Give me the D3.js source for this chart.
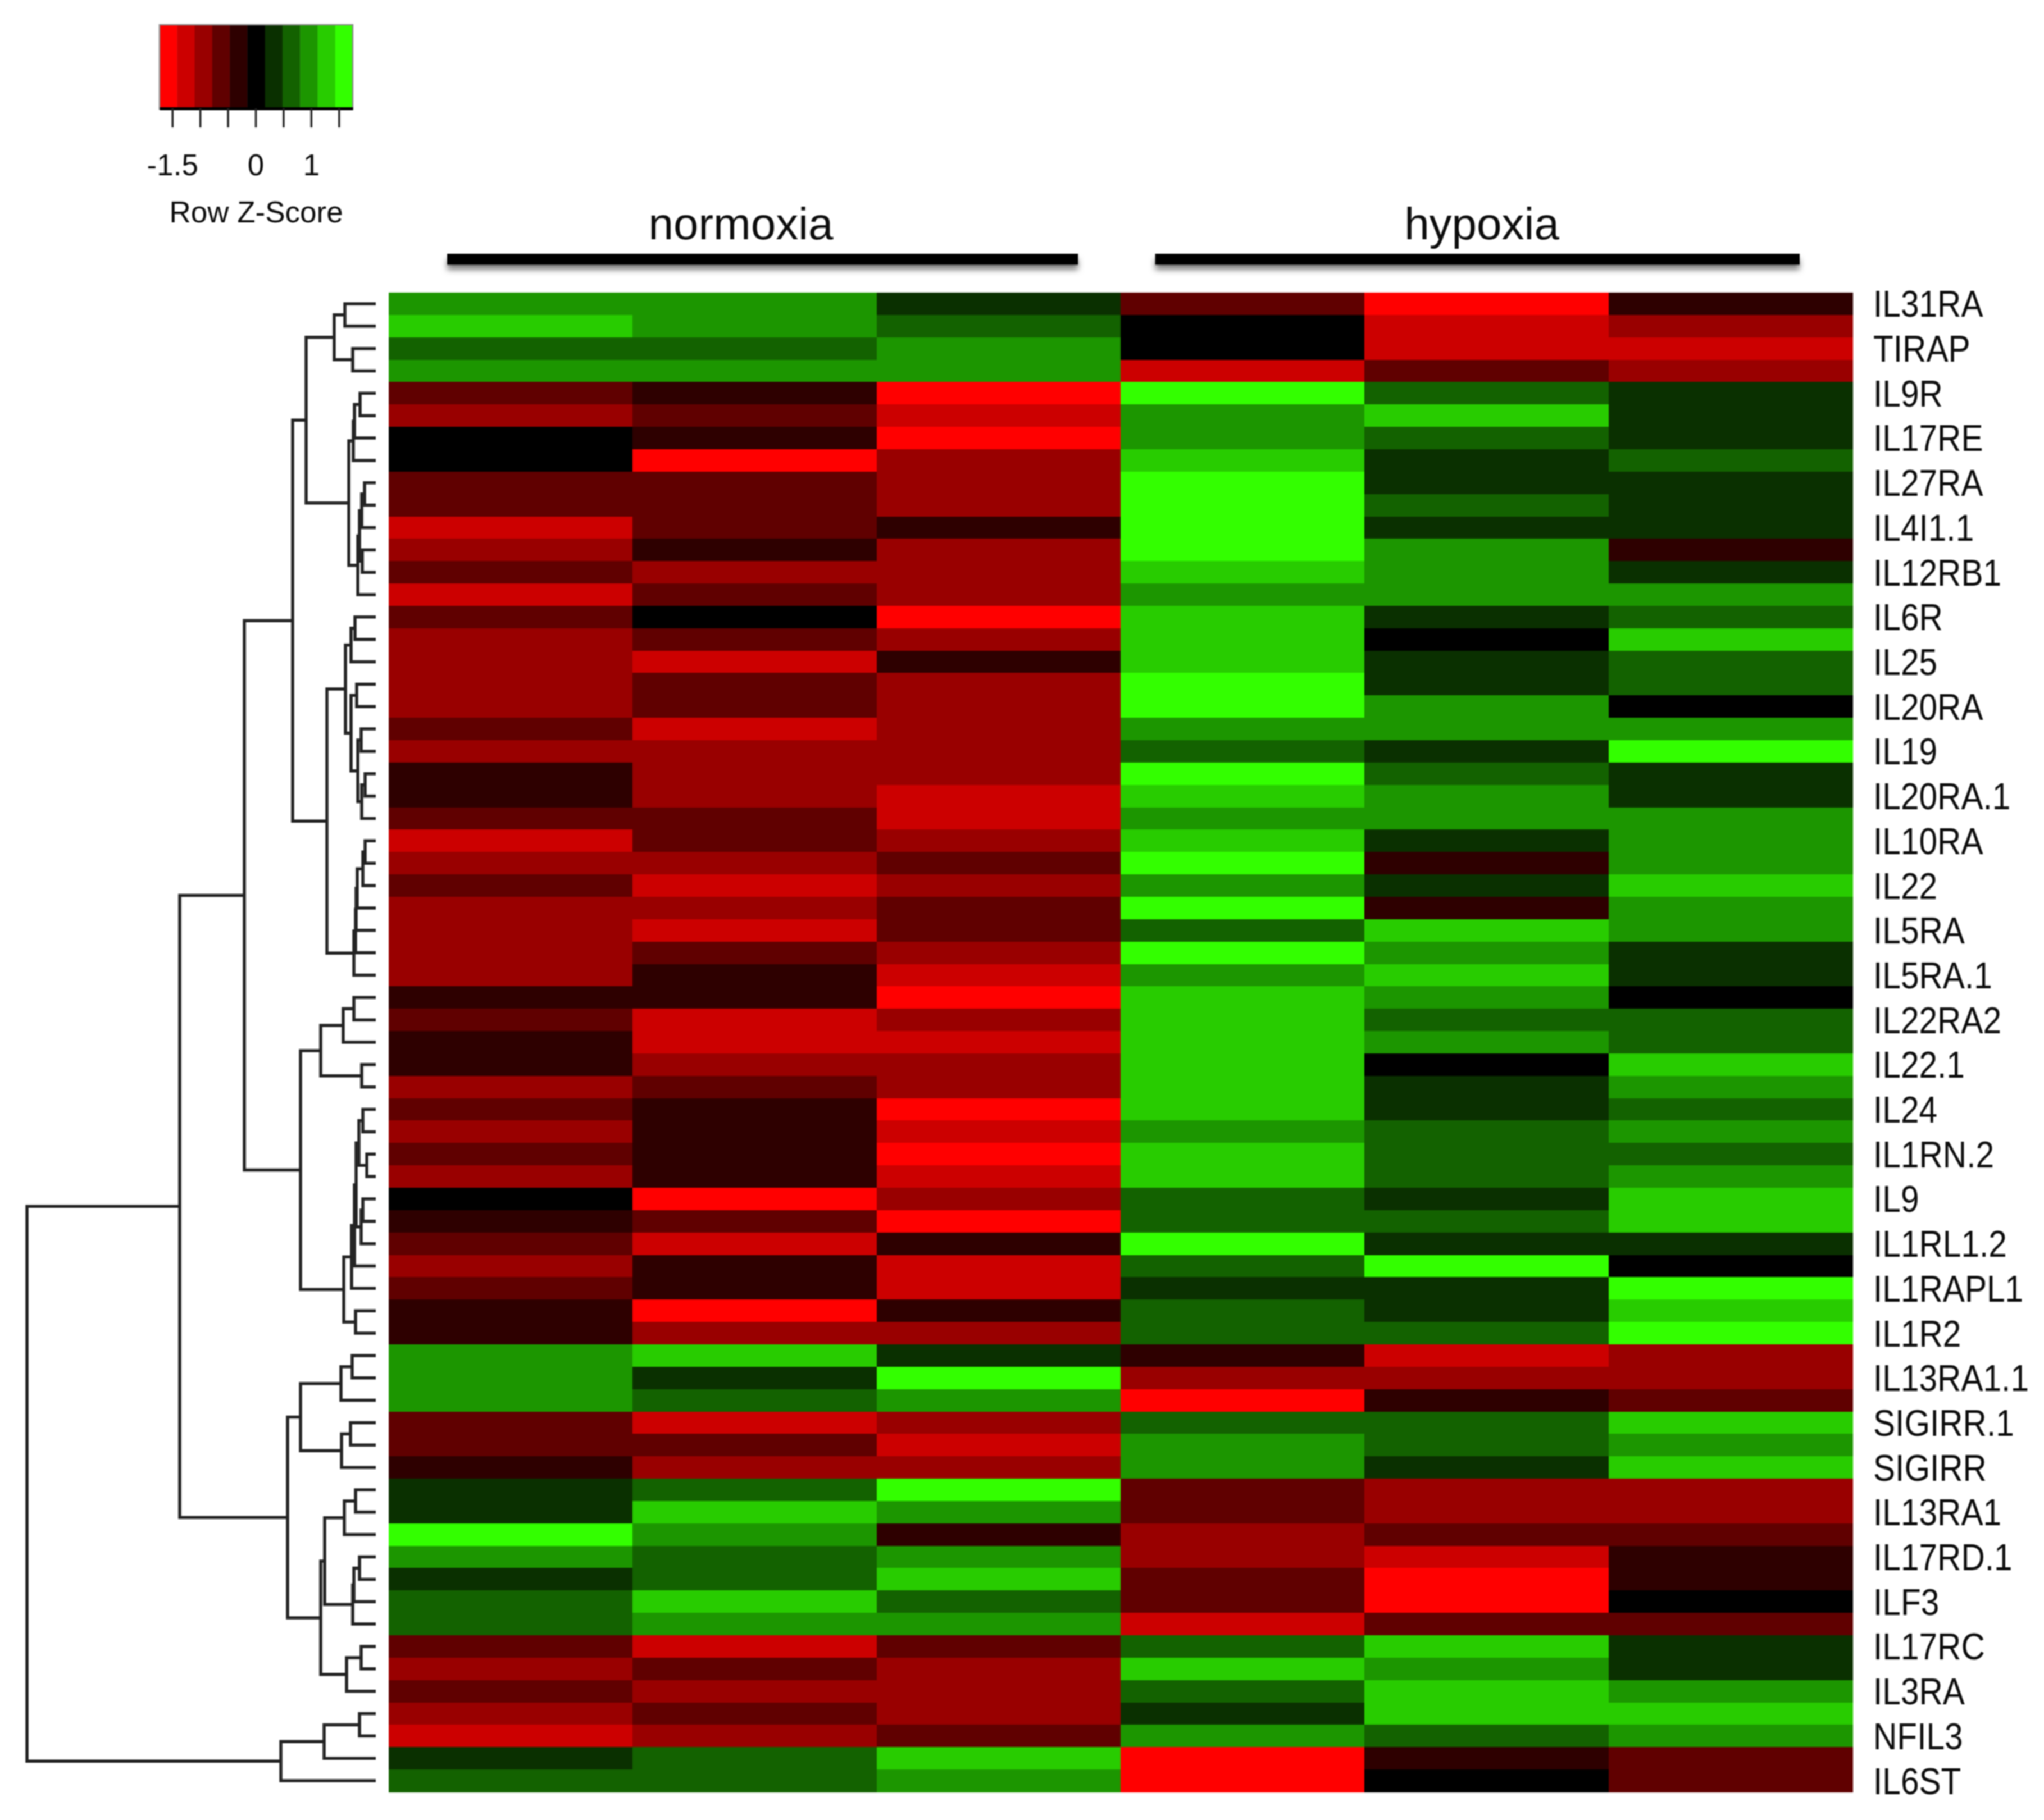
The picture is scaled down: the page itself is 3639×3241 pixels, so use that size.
<!DOCTYPE html>
<html><head><meta charset="utf-8">
<script src="https://cdn.jsdelivr.net/npm/d3@7/dist/d3.min.js"></script>
<style>
html,body{margin:0;padding:0;background:#fff}
svg{display:block;filter:blur(1.1px)}
text{font-family:"Liberation Sans",Arial,sans-serif;fill:#0c0c0c}
</style></head><body>
<script>
const sampleNames = ["normoxia 1","normoxia 2","normoxia 3","hypoxia 1","hypoxia 2","hypoxia 3"];
const normoxia1 = [.9,1.3,.6,.9,-.6,-.9,0,0,-.6,-.6,
 -1.3,-.9,-.6,-1.3,-.6,-.9,-.9,-.9,-.9,-.6,
 -.9,-.3,-.3,-.6,-1.3,-.9,-.6,-.9,-.9,-.9,
 -.9,-.3,-.6,-.3,-.3,-.9,-.6,-.9,-.6,-.9,
 0,-.3,-.6,-.9,-.6,-.3,-.3,.9,.9,.9,
 -.6,-.6,-.3,.3,.3,1.6,.9,.3,.6,.6,
 -.6,-.9,-.6,-.9,-1.3,.3,.6];
const normoxia2 = [.9,.9,.6,.9,-.3,-.6,-.3,-1.6,-.6,-.6,
 -.6,-.3,-.9,-.6,0,-.6,-1.3,-.6,-.6,-1.3,
 -.9,-.9,-.9,-.6,-.6,-.9,-1.3,-.9,-1.3,-.6,
 -.3,-.3,-1.3,-1.3,-.9,-.6,-.3,-.3,-.3,-.3,
 -1.6,-.6,-1.3,-.3,-.3,-1.6,-.9,1.3,.3,.6,
 -1.3,-.6,-.9,.6,1.3,.9,.6,.6,1.3,.9,
 -1.3,-.6,-.9,-.6,-.9,.6,.6];
const normoxia3 = [.3,.6,.9,.9,-1.6,-1.3,-1.6,-.9,-.9,-.9,
 -.3,-.9,-.9,-.9,-1.6,-.9,-.3,-.9,-.9,-.9,
 -.9,-.9,-1.3,-1.3,-.9,-.6,-.9,-.6,-.6,-.9,
 -1.3,-1.6,-.9,-1.3,-.9,-.9,-1.6,-1.3,-1.6,-1.3,
 -.9,-1.6,-.3,-1.3,-1.3,-.3,-.9,.3,1.6,.9,
 -.9,-1.3,-.9,1.6,.9,-.3,.9,1.3,.6,.9,
 -.6,-.9,-.9,-.9,-.6,1.3,.9];
const hypoxia1 = [-.6,0,0,-1.3,1.6,.9,.9,1.3,1.6,1.6,
 1.6,1.6,1.3,.9,1.3,1.3,1.3,1.6,1.6,.9,
 .6,1.6,1.3,.9,1.3,1.6,.9,1.6,.6,1.6,
 .9,1.3,1.3,1.3,1.3,1.3,1.3,.9,1.3,1.3,
 .6,.6,1.6,.6,.3,.6,.6,-.3,-.9,-1.6,
 .6,.9,.9,-.6,-.6,-.9,-.9,-.6,-.6,-1.3,
 .6,1.3,.6,.3,.9,-1.6,-1.6];
const hypoxia2 = [-1.6,-1.3,-1.3,-.6,.6,1.3,.6,.3,.3,.6,
 .3,.9,.9,.9,.3,0,.3,.3,.9,.9,
 .3,.6,.9,.9,.3,-.3,.3,-.3,1.3,.9,
 1.3,.9,.6,.9,0,.3,.3,.6,.6,.6,
 .3,.6,.3,1.6,.3,.3,.6,-1.3,-.9,-.3,
 .6,.6,.3,-.9,-.9,-.6,-1.3,-1.6,-1.6,-.6,
 1.3,.9,1.3,1.3,.6,-.3,0];
const hypoxia3 = [-.3,-.9,-1.3,-.9,.3,.3,.3,.6,.3,.3,
 .3,-.3,.3,.9,.6,1.3,.6,.6,0,.9,
 1.6,.3,.3,.9,.9,.9,1.3,.9,.9,.3,
 .3,0,.6,.6,1.3,.9,.6,.9,.6,.9,
 1.3,1.3,.3,0,1.6,1.3,1.6,-.9,-.9,-.6,
 1.3,.9,1.3,-.9,-.9,-.6,-.3,-.3,0,-.6,
 .3,.3,.9,1.3,.9,-.6,-.6];
const rowLabels = ["IL31RA","TIRAP","IL9R","IL17RE","IL27RA","IL4I1.1","IL12RB1","IL6R","IL25","IL20RA","IL19","IL20RA.1","IL10RA","IL22","IL5RA","IL5RA.1","IL22RA2","IL22.1","IL24","IL1RN.2","IL9","IL1RL1.2","IL1RAPL1","IL1R2","IL13RA1.1","SIGIRR.1","SIGIRR","IL13RA1","IL17RD.1","ILF3","IL17RC","IL3RA","NFIL3","IL6ST"];
const zColors = ["#ff0000","#cc0000","#990000","#600000","#2e0000","#000000","#0a3000","#136200","#1c9600","#28cc00","#33ff00"];
const legendTicks = [-1.5,-1,-.5,0,.5,1,1.5];
const legendLabelled = [-1.5,0,1];
const groupNames = ["normoxia","hypoxia"];
// Row dendrogram: [merge height, left, right]; 0 = next leaf.
const rowTree = [621,
 [349,
  [234,
   [148,
    [124,
     [74,[55,0,0],[41,0,0]],
     [48,
      [40,[38,[28,0,0],0],0],
      [32,[29,[25,[20,0,0],0],[24,0,0]],0]]],
    [87,
     [54,
      [44,[37,0,0],0],
      [44,[34,0,0],[32,[26,0,0],[25,[19,0,0],0]]]],
     [39,[36,[35,[33,[23,[19,0,0],0],0],0],0],0]]],
   [134,
    [98,[58,[39,0,0],0],[25,0,0]],
    [57,
     [43,[38,[35,[30,[23,0,0],[16,0,0]],[26,[23,0,0],0]],0],0],
     [36,0,0]]]],
  [157,
   [134,[62,[42,0,0],0],[61,[45,0,0],0]],
   [98,
    [91,[56,[36,0,0],0],[41,[39,[29,0,0],0],0]],
    [52,[26,0,0],0]]]],
 [169,[92,[29,0,0],0],0]];

const W = 3639, H = 3241;
const svg = d3.select("body").append("svg").attr("width",W).attr("height",H).attr("viewBox",`0 0 ${W} ${H}`);
const defs = svg.append("defs");
const f = defs.append("filter").attr("id","sh").attr("filterUnits","userSpaceOnUse")
  .attr("x",700).attr("y",420).attr("width",2600).attr("height",100);
f.append("feDropShadow").attr("dx",0).attr("dy",9).attr("stdDeviation",5.5).attr("flood-color","#000").attr("flood-opacity",0.5);

const columns = [normoxia1,normoxia2,normoxia3,hypoxia1,hypoxia2,hypoxia3];
const nRows = normoxia1.length;
const x = d3.scaleBand().domain(sampleNames).range([692,3298]);
const y = d3.scaleBand().domain(d3.range(nRows)).range([521,3191]);
const zExtent = [-1.73,1.75];
const color = d3.scaleQuantize().domain(zExtent).range(zColors);

// heatmap
const heat = svg.append("g").attr("shape-rendering","crispEdges");
columns.forEach((col,c)=>{
  heat.selectAll(null).data(col).join("rect")
    .attr("x",x(sampleNames[c])).attr("width",x.bandwidth()+0.5)
    .attr("y",(d,i)=>y(i)).attr("height",y.bandwidth()+0.5)
    .attr("fill",d=>color(d));
});

// row labels
const labelScaleX = 0.875;
const rowAxis = d3.axisRight(y).tickValues(d3.range(0,nRows,2)).tickFormat(i=>rowLabels[i/2]).tickSize(0).tickPadding(0);
const ra = svg.append("g").attr("transform","translate(3335,0)").call(rowAxis);
ra.select(".domain").remove();
ra.selectAll("text").attr("x",0).attr("dy","0.35em").attr("font-size",67)
  .attr("font-family",'"Liberation Sans",Arial,sans-serif').attr("fill","#0c0c0c")
  .attr("transform",`scale(${labelScaleX},1)`);

// dendrogram
const h = d3.scaleLinear().domain([0,621]).range([669,48]);
let leaf = 0;
const segs = [];
function walk(n){
  if(n===0){ const i=leaf++; return {x:h(0),y:y(i)+y.bandwidth()/2}; }
  const a=walk(n[1]), b=walk(n[2]);
  const px=h(n[0]), py=(a.y+b.y)/2;
  segs.push(`M${a.x},${a.y}H${px}V${b.y}H${b.x}`);
  return {x:px,y:py};
}
walk(rowTree);
svg.append("g").selectAll("path").data(segs).join("path").attr("d",d=>d)
  .attr("fill","none").attr("stroke","#222").attr("stroke-width",5.5);

// legend
const lx = d3.scaleLinear().domain(zExtent).range([284,628]);
const leg = svg.append("g");
leg.selectAll("rect").data(zColors).join("rect")
  .attr("x",d=>lx(color.invertExtent(d)[0])).attr("y",44)
  .attr("width",d=>lx(color.invertExtent(d)[1])-lx(color.invertExtent(d)[0])+0.5)
  .attr("height",150).attr("fill",d=>d);
leg.append("rect").attr("x",284).attr("y",44).attr("width",344).attr("height",150)
  .attr("fill","none").attr("stroke","#8a8a8a").attr("stroke-width",2.5);
const legAxis = d3.axisBottom(lx).tickValues(legendTicks).tickSize(34).tickSizeOuter(0).tickPadding(44)
  .tickFormat(d=>legendLabelled.includes(d)?String(d):"");
const la = svg.append("g").attr("transform","translate(0,193)").call(legAxis);
la.select(".domain").attr("stroke","#000").attr("stroke-width",5);
la.selectAll("line").attr("stroke","#222").attr("stroke-width",3.5);
la.selectAll("text").attr("font-size",53).attr("fill","#0c0c0c").attr("font-family",'"Liberation Sans",Arial,sans-serif')
  .attr("y",119).attr("dy",0);
svg.append("text").attr("x",456).attr("y",396).attr("text-anchor","middle").attr("font-size",53).text("Row Z-Score");

// group headers and bars
const barX = d3.scaleLinear().domain([0,6]).range([796,3204]);
const groupBars = [[0,2.799],[3.141,6]];
const groupCentres = [1319,2638];
groupNames.forEach((g,i)=>{
  svg.append("rect").attr("x",barX(groupBars[i][0])).attr("y",452)
    .attr("width",barX(groupBars[i][1])-barX(groupBars[i][0])).attr("height",19.5)
    .attr("fill","#000").attr("filter","url(#sh)");
  svg.append("text").attr("x",groupCentres[i]).attr("y",426).attr("text-anchor","middle").attr("font-size",80).text(g);
});
</script></body></html>
